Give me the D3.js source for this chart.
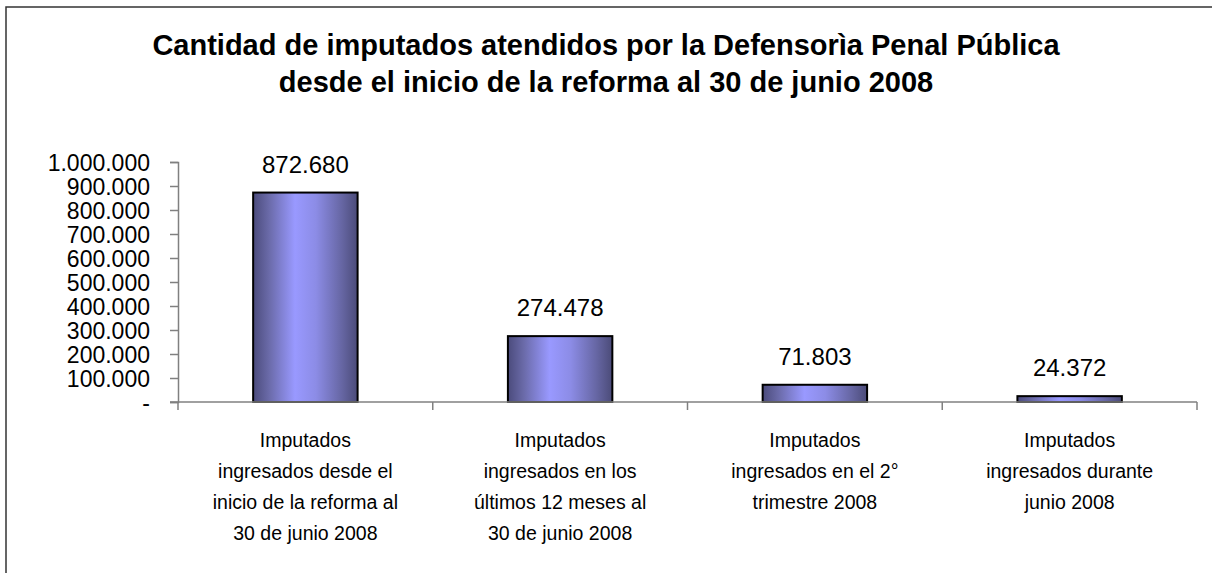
<!DOCTYPE html>
<html>
<head>
<meta charset="utf-8">
<script src="https://cdn.jsdelivr.net/npm/d3@7"></script>
<style>
  body { margin: 0; background: #fff; }
  text { font-family: "Liberation Sans", Arial, sans-serif; fill: #000; }
</style>
</head>
<body>
<div id="chart"></div>
<script>
// datos
const categorias = [
  ["Imputados", "ingresados desde el", "inicio de la reforma al", "30 de junio 2008"],
  ["Imputados", "ingresados en los", "últimos 12 meses al", "30 de junio 2008"],
  ["Imputados", "ingresados en el 2°", "trimestre 2008"],
  ["Imputados", "ingresados durante", "junio 2008"]
];
const valores = [872680, 274478, 71803, 24372];
const ticksY = [0, 100000, 200000, 300000, 400000, 500000, 600000, 700000, 800000, 900000, 1000000];
const titulo = [
  "Cantidad de imputados atendidos por la Defensorìa Penal Pública",
  "desde el inicio de la reforma al 30 de junio 2008"
];

const width = 1212, height = 573;
const m = { left: 178, right: 1197, top: 162, bottom: 402 };

const fmt = v => v === 0 ? "-" : d3.format(",")(v).replace(/,/g, ".");

const svg = d3.select("#chart").append("svg")
  .attr("width", width)
  .attr("height", height);

// degradado tipo cilindro
const grad = svg.append("defs").append("linearGradient")
  .attr("id", "barra").attr("x1", "0%").attr("x2", "100%");
[[0, "#4b4b7c"], [0.15, "#6a6aa8"], [0.4, "#9999ff"], [0.6, "#8c8ce6"], [0.85, "#6666a3"], [1, "#4b4b78"]]
  .forEach(([o, c]) => grad.append("stop").attr("offset", o).attr("stop-color", c));

// marco exterior
svg.append("rect")
  .attr("x", 6).attr("y", 7)
  .attr("width", 1240).attr("height", 600)
  .attr("fill", "none").attr("stroke", "#333").attr("stroke-width", 1.5);

// titulo
svg.append("g").selectAll("text")
  .data(titulo)
  .join("text")
  .attr("x", 606)
  .attr("y", (d, i) => 55 + i * 37)
  .attr("text-anchor", "middle")
  .attr("font-size", 29)
  .attr("font-weight", "bold")
  .text(d => d);

const x = d3.scaleBand()
  .domain(d3.range(valores.length))
  .range([m.left, m.right])
  .paddingInner(0.59)
  .paddingOuter(0.295);

const y = d3.scaleLinear()
  .domain([0, 1000000])
  .range([m.bottom, m.top]);

// eje Y
const ejeY = svg.append("g")
  .attr("transform", `translate(${m.left},0)`)
  .call(d3.axisLeft(y).tickValues(ticksY).tickFormat(fmt).tickSize(8).tickPadding(20));
ejeY.select(".domain").attr("stroke", "#808080").attr("stroke-width", 1.5);
ejeY.selectAll(".tick line").attr("stroke", "#808080").attr("stroke-width", 1.5);
ejeY.selectAll(".tick text").attr("font-size", 23).attr("dy", "0.36em")
  .style("font-family", "Liberation Sans, Arial, sans-serif");

// barras
svg.append("g").selectAll("rect")
  .data(valores)
  .join("rect")
  .attr("x", (d, i) => x(i))
  .attr("y", d => y(d))
  .attr("width", x.bandwidth())
  .attr("height", d => y(0) - y(d))
  .attr("fill", "url(#barra)")
  .attr("stroke", "#000")
  .attr("stroke-width", 2);

// eje X
const paso = (m.right - m.left) / valores.length;
const ejeX = svg.append("g");
ejeX.append("line")
  .attr("x1", m.left - 8).attr("x2", m.right)
  .attr("y1", m.bottom).attr("y2", m.bottom)
  .attr("stroke", "#808080").attr("stroke-width", 1.5);
ejeX.selectAll(".sep")
  .data(d3.range(valores.length + 1))
  .join("line")
  .attr("class", "sep")
  .attr("x1", i => m.left + i * paso).attr("x2", i => m.left + i * paso)
  .attr("y1", m.bottom).attr("y2", m.bottom + 8)
  .attr("stroke", "#808080").attr("stroke-width", 1.5);

// etiquetas de valores
svg.append("g").selectAll("text")
  .data(valores)
  .join("text")
  .attr("x", (d, i) => x(i) + x.bandwidth() / 2)
  .attr("y", d => y(d) - 20)
  .attr("text-anchor", "middle")
  .attr("font-size", 24)
  .text(fmt);

// etiquetas de categorias
const cat = svg.append("g").selectAll("text")
  .data(categorias)
  .join("text")
  .attr("text-anchor", "middle")
  .attr("font-size", 19.5);
cat.each(function (lineas, i) {
  d3.select(this).selectAll("tspan")
    .data(lineas)
    .join("tspan")
    .attr("x", x(i) + x.bandwidth() / 2)
    .attr("y", (d, j) => 447 + j * 31)
    .text(d => d);
});
</script>
</body>
</html>
